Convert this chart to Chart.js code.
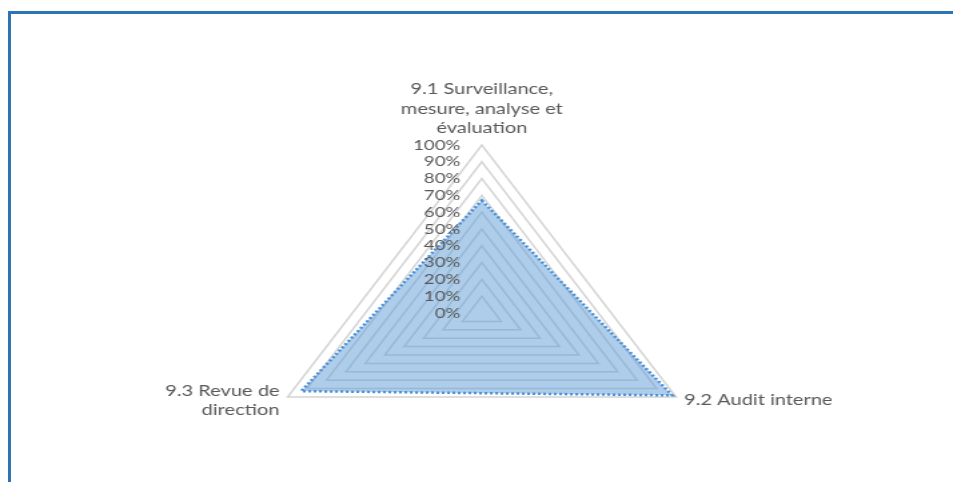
<!DOCTYPE html>
<html>
<head>
<meta charset="utf-8">
<script src="https://cdn.jsdelivr.net/npm/chart.js@4/dist/chart.umd.min.js"></script>
<style>
    html, body { margin: 0; padding: 0; background: #fff; }
    body { width: 953px; height: 482px; position: relative; overflow: hidden; }
    .frame {
        position: absolute; left: 8px; top: 11px; right: -10px; bottom: -10px;
        border-left: 3px solid #2e75b6; border-top: 3px solid #2e75b6;
    }
    /* the chart is drawn narrow then stretched sideways */
    .wrap {
        position: absolute; left: 0; top: 0; width: 714px; height: 482px;
        transform: scaleX(1.3347); transform-origin: 0 0;
    }
</style>
</head>
<body>
<div class="frame"></div>
<div class="wrap"><canvas id="radar"></canvas></div>
<script>
/* ===== données ===== */
const categories = [
    ['9.1 Surveillance,', 'mesure, analyse et', 'évaluation'],
    ['9.2 Audit interne'],
    ['9.3 Revue de', 'direction']
];
const scores = [67, 98, 93];
const tickValues = [0, 10, 20, 30, 40, 50, 60, 70, 80, 90, 100];

const FONT_FAMILY = 'Lato, "Liberation Sans", sans-serif';
const TICK_SIZE = 14;
const LABEL_SIZE = 15;
const LINE_H = 19.5;
const TEXT_COLOR = '#595959';

// graduations à gauche de l'axe du haut + libellés des axes
const radarText = {
    id: 'radarText',
    afterDatasetsDraw(chart) {
        const scale = chart.scales.r;
        const ctx = chart.ctx;
        ctx.save();
        ctx.fillStyle = TEXT_COLOR;

        ctx.font = `${TICK_SIZE}px ${FONT_FAMILY}`;
        ctx.textAlign = 'right';
        ctx.textBaseline = 'middle';
        for (const v of tickValues) {
            const d = scale.getDistanceFromCenterForValue(v);
            ctx.fillText(v + '%', scale.xCenter - 16, scale.yCenter - d);
        }

        ctx.font = `${LABEL_SIZE}px ${FONT_FAMILY}`;
        categories.forEach((lines, i) => {
            const p = scale.getPointPosition(i, scale.drawingArea + 7);
            const dx = p.x - scale.xCenter;
            ctx.textAlign = Math.abs(dx) < 1 ? 'center' : (dx > 0 ? 'left' : 'right');
            const blockH = lines.length * LINE_H;
            // au-dessus du sommet : bloc aligné par le bas, sinon centré
            const y0 = p.y < scale.yCenter ? p.y - blockH : p.y - blockH / 2;
            lines.forEach((txt, k) => {
                ctx.fillText(txt, p.x, y0 + LINE_H * (k + 0.5));
            });
        });
        ctx.restore();
    }
};

new Chart(document.getElementById('radar'), {
    type: 'radar',
    data: {
        labels: categories,
        datasets: [{
            data: scores,
            backgroundColor: 'rgba(91,155,213,0.5)',
            borderColor: '#4a90d9',
            borderWidth: 2.5,
            borderDash: [2, 2],
            pointRadius: 0,
            fill: true
        }]
    },
    options: {
        responsive: true,
        maintainAspectRatio: false,
        animation: false,
        layout: { padding: { left: 8, right: 0, top: 145, bottom: 0 } },
        plugins: { legend: { display: false }, tooltip: { enabled: false } },
        scales: {
            r: {
                min: 0,
                max: 100,
                ticks: { stepSize: 10, display: false },
                angleLines: { display: false },
                grid: { color: '#d4d4d4', lineWidth: 1.5 },
                pointLabels: { display: false }
            }
        }
    },
    plugins: [radarText]
});
</script>
</body>
</html>
